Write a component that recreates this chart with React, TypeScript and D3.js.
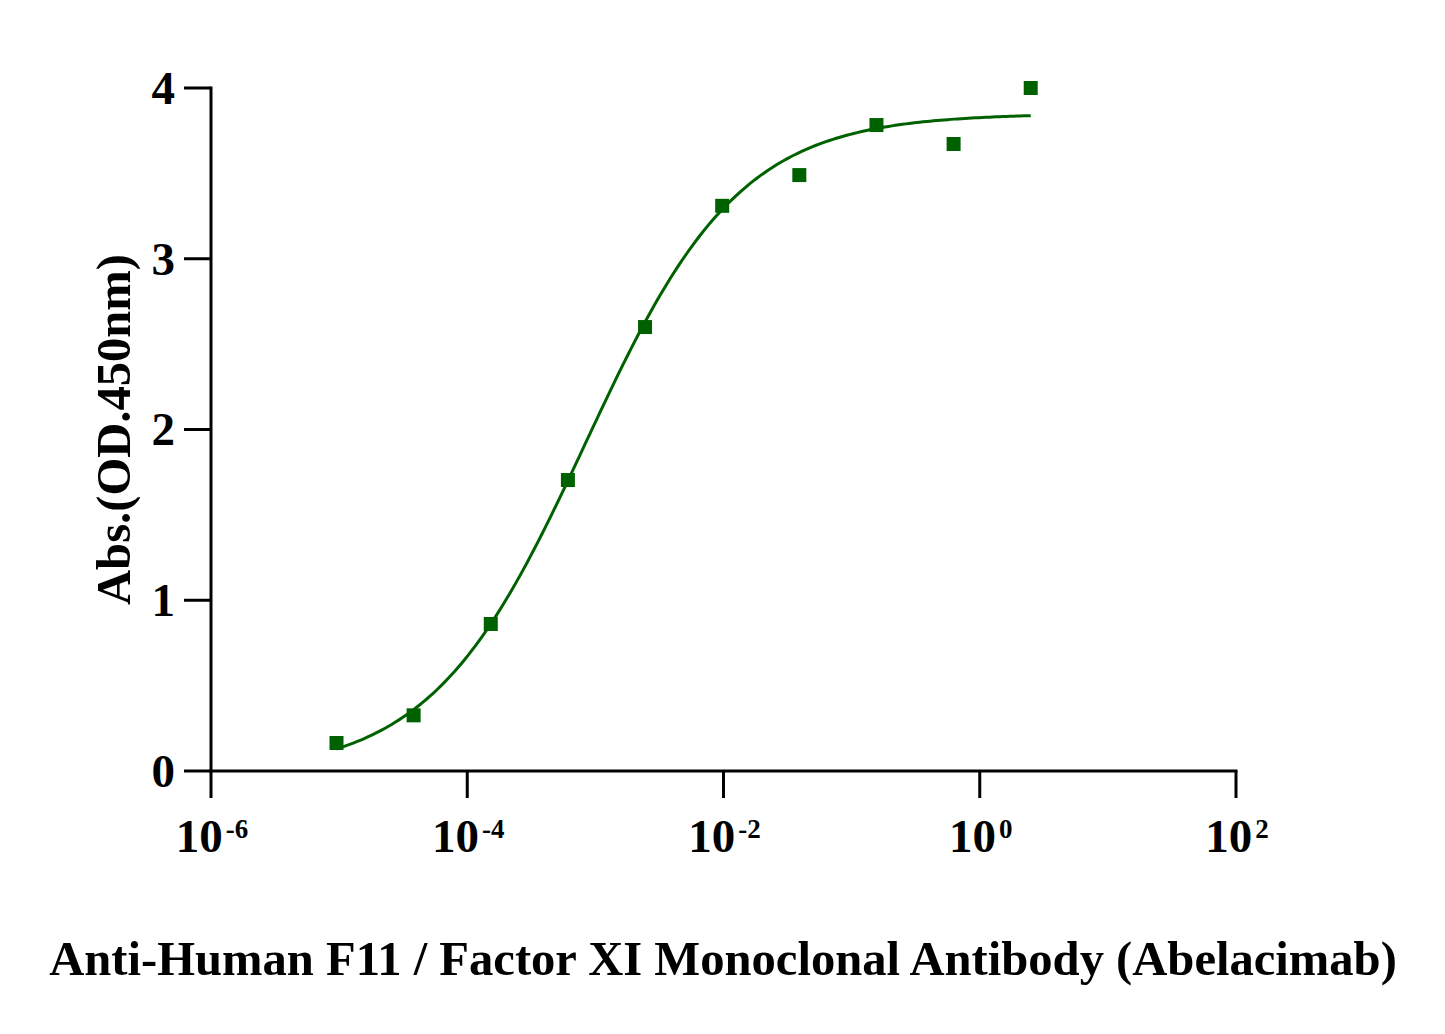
import { useEffect, useRef } from "react";
import * as d3 from "d3";

// dilution series (4-fold) and measured absorbance
const concentrations = [
  9.54e-6, 3.815e-5, 1.526e-4, 6.104e-4, 2.441e-3, 9.766e-3, 3.906e-2, 0.15625,
  0.625, 2.5,
];
const absorbance = [0.164, 0.326, 0.861, 1.704, 2.6, 3.31, 3.49, 3.783, 3.672, 4.0];

// 4PL fit parameters
const fitBottom = -0.02;
const fitTop = 3.85;
const fitLogEC50 = -3.08;
const fitHill = 0.72;

const yTicks = [0, 1, 2, 3, 4];
const xTickExponents = [-6, -4, -2, 0, 2];

const xTitle = "Anti-Human F11 / Factor XI Monoclonal Antibody (Abelacimab)";
const yTitle = "Abs.(OD.450nm)";

const green = "#006100";

export default function App() {
  const width = 1445;
  const height = 1034;
  const svgRef = useRef<SVGSVGElement>(null);

  useEffect(() => {
    const svg = d3.select(svgRef.current);
    svg.selectAll("*").remove();

    const x = d3.scaleLog().domain([1e-6, 1e2]).range([211, 1236]);
    const y = d3.scaleLinear().domain([0, 4]).range([771, 88]);

    const font = "'Liberation Serif', 'Times New Roman', serif";

    // axes
    const yAxis = svg.append("g").attr("transform", `translate(${x(1e-6)},0)`);
    yAxis
      .append("line")
      .attr("y1", y(0) + 1.5)
      .attr("y2", y(4) - 1.5)
      .attr("stroke", "#000")
      .attr("stroke-width", 3);
    yAxis
      .selectAll("line.tick")
      .data(yTicks)
      .join("line")
      .attr("class", "tick")
      .attr("x1", -27)
      .attr("x2", 0)
      .attr("y1", (d) => y(d))
      .attr("y2", (d) => y(d))
      .attr("stroke", "#000")
      .attr("stroke-width", 3);
    yAxis
      .selectAll("text")
      .data(yTicks)
      .join("text")
      .attr("x", -36)
      .attr("y", (d) => y(d))
      .attr("dy", "0.34em")
      .attr("text-anchor", "end")
      .attr("font-family", font)
      .attr("font-weight", "bold")
      .attr("font-size", 47)
      .text((d) => d);

    const xAxis = svg.append("g").attr("transform", `translate(0,${y(0)})`);
    xAxis
      .append("line")
      .attr("x1", x(1e-6) - 1.5)
      .attr("x2", x(1e2) + 1.5)
      .attr("stroke", "#000")
      .attr("stroke-width", 3);
    xAxis
      .selectAll("line.tick")
      .data(xTickExponents)
      .join("line")
      .attr("class", "tick")
      .attr("x1", (d) => x(Math.pow(10, d)))
      .attr("x2", (d) => x(Math.pow(10, d)))
      .attr("y1", 0)
      .attr("y2", 27)
      .attr("stroke", "#000")
      .attr("stroke-width", 3);
    const xLabels = xAxis
      .selectAll("text")
      .data(xTickExponents)
      .join("text")
      .attr("x", (d) => x(Math.pow(10, d)) + 1)
      .attr("y", 81)
      .attr("text-anchor", "middle")
      .attr("font-family", font)
      .attr("font-weight", "bold")
      .attr("font-size", 47);
    xLabels.append("tspan").text("10");
    xLabels
      .append("tspan")
      .attr("font-size", 27)
      .attr("dy", -14)
      .attr("dx", 3)
      .text((d) => (d < 0 ? `-${-d}` : `${d}`));

    // fitted curve
    const fit = (c: number) =>
      fitBottom +
      (fitTop - fitBottom) / (1 + Math.pow(10, fitHill * (fitLogEC50 - Math.log10(c))));
    const lo = Math.log10(concentrations[0]);
    const hi = Math.log10(concentrations[concentrations.length - 1]);
    const curvePts = d3.range(0, 201).map((i) => {
      const c = Math.pow(10, lo + ((hi - lo) * i) / 200);
      return [c, fit(c)] as [number, number];
    });
    svg
      .append("path")
      .datum(curvePts)
      .attr("fill", "none")
      .attr("stroke", green)
      .attr("stroke-width", 3)
      .attr(
        "d",
        d3
          .line<[number, number]>()
          .x((d) => x(d[0]))
          .y((d) => y(d[1]))
      );

    // markers
    const size = 14;
    svg
      .append("g")
      .selectAll("rect")
      .data(concentrations.map((c, i) => [c, absorbance[i]] as [number, number]))
      .join("rect")
      .attr("x", (d) => x(d[0]) - size / 2)
      .attr("y", (d) => y(d[1]) - size / 2)
      .attr("width", size)
      .attr("height", size)
      .attr("fill", green);

    // titles
    svg
      .append("text")
      .attr("x", 723)
      .attr("y", 975)
      .attr("text-anchor", "middle")
      .attr("font-family", font)
      .attr("font-weight", "bold")
      .attr("font-size", 48.6)
      .text(xTitle);

    svg
      .append("text")
      .attr("transform", `translate(130,${(y(0) + y(4)) / 2}) rotate(-90)`)
      .attr("text-anchor", "middle")
      .attr("font-family", font)
      .attr("font-weight", "bold")
      .attr("font-size", 48.6)
      .text(yTitle);
  }, []);

  return (
    <svg
      ref={svgRef}
      width={width}
      height={height}
      style={{ position: "absolute", left: 0, top: 0, background: "#fff" }}
    ></svg>
  );
}
